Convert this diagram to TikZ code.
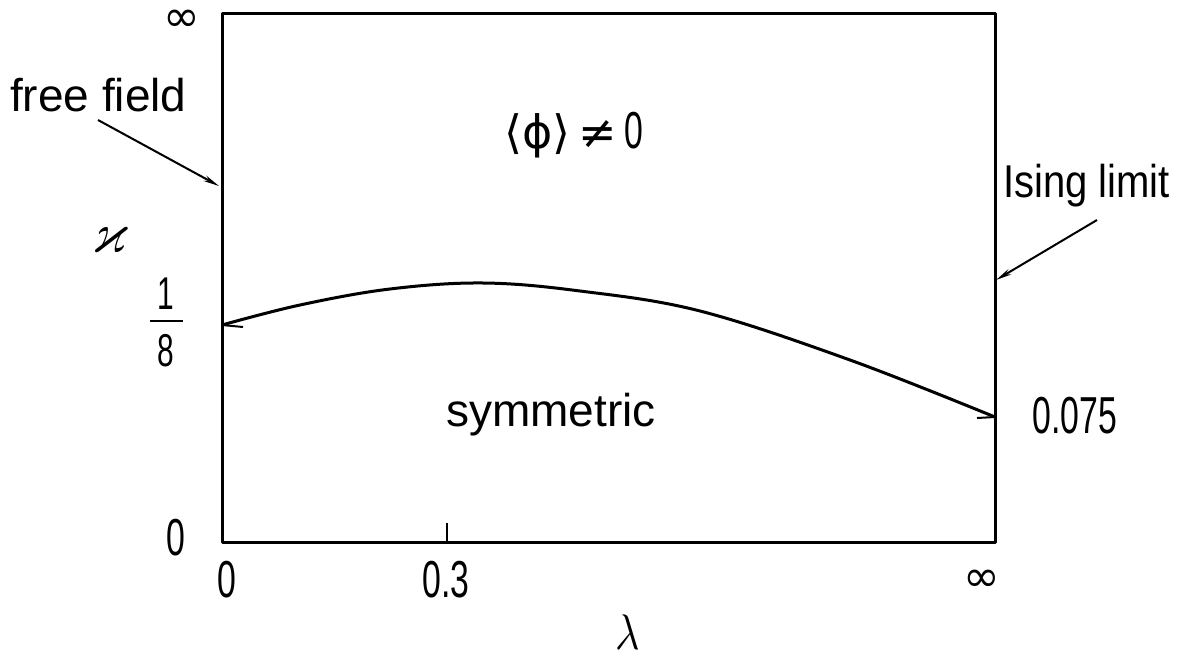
\documentclass[tikz,border=0pt]{standalone}
\usepackage{amssymb}
\usepackage{fontspec}
\setmainfont{Liberation Sans}
\newfontfamily\digfont[FakeStretch=0.65]{Liberation Sans}
\newfontfamily\symfont{DejaVu Sans}
\usetikzlibrary{arrows.meta}
\tikzset{
  word/.style={inner sep=0pt, font=\fontsize{46}{50}\selectfont},
  digit/.style={inner sep=0pt, font=\digfont\fontsize{52}{56}\selectfont},
  smalldigit/.style={inner sep=0pt, font=\digfont\fontsize{46}{50}\selectfont},
  infsym/.style={inner sep=0pt, font=\symfont\fontsize{44}{48}\selectfont},
  frame/.style={line width=3pt, line join=round},
  curve/.style={line width=3pt},
  tickline/.style={line width=2pt},
  pointer/.style={line width=2pt, -{Stealth[length=16pt,width=6pt]}},
}
\begin{document}
\begin{tikzpicture}[x=1pt,y=-1pt]
\useasboundingbox (0,0) rectangle (1187,661);
% frame
\coordinate (tl) at (222,14);
\coordinate (br) at (995,542);
\draw[frame] (tl) rectangle (br);
% phase boundary
\coordinate (cl) at (222,325);
\coordinate (cr) at (995,417);
\draw[curve] plot[smooth, tension=0.6] coordinates {(222,325) (300,305) (390,289) (483,283) (580,291) (700,311) (850,360) (995,417)};
\coordinate (tkl) at (243,327);
\draw[tickline] (cl) -- (tkl);
\coordinate (tkr) at (977,418);
\draw[tickline] (cr) -- (tkr);
\coordinate (t3a) at (447,523);
\coordinate (t3b) at (447,542);
\draw[tickline] (t3a) -- (t3b);
% labels
\node[infsym] (infT) at (182,21) {∞};
\node[word, anchor=base west] (ff) at (10,112) {free field};
\coordinate (ffs) at (98,120);
\coordinate (ffe) at (219,186);
\draw[pointer] (ffs) -- (ffe);
\node[word, anchor=base west, xscale=0.87] (is) at (1003,197) {Ising limit};
\coordinate (iss) at (1097,220);
\coordinate (ise) at (996,280);
\draw[pointer] (iss) -- (ise);
\node[inner sep=0pt, xscale=5, yscale=5.8] (kap) at (110,240) {$\varkappa$};
\node[smalldigit] (one) at (166,294) {1};
\coordinate (fbl) at (150,321);
\coordinate (fbr) at (183,321);
\draw[line width=2pt] (fbl) -- (fbr);
\node[smalldigit] (eight) at (166,351) {8};
\node[inner sep=0pt] (ord) at (574,135) {{\symfont\fontsize{46}{50}\selectfont ⟨ϕ⟩\,≠\,}{\digfont\fontsize{52}{56}\selectfont 0}};
\node[word] (sym) at (551,415) {symmetric};
\node[digit] (c075) at (1075,416) {0.075};
\node[digit] (zl) at (176,538) {0};
\node[digit] (zb) at (227,580) {0};
\node[digit] (z3) at (446,580) {0.3};
\node[infsym] (infB) at (982,581) {∞};
\node[inner sep=0pt, xscale=4.2, yscale=5] (lam) at (628,632) {$\lambda$};
\end{tikzpicture}
\end{document}
